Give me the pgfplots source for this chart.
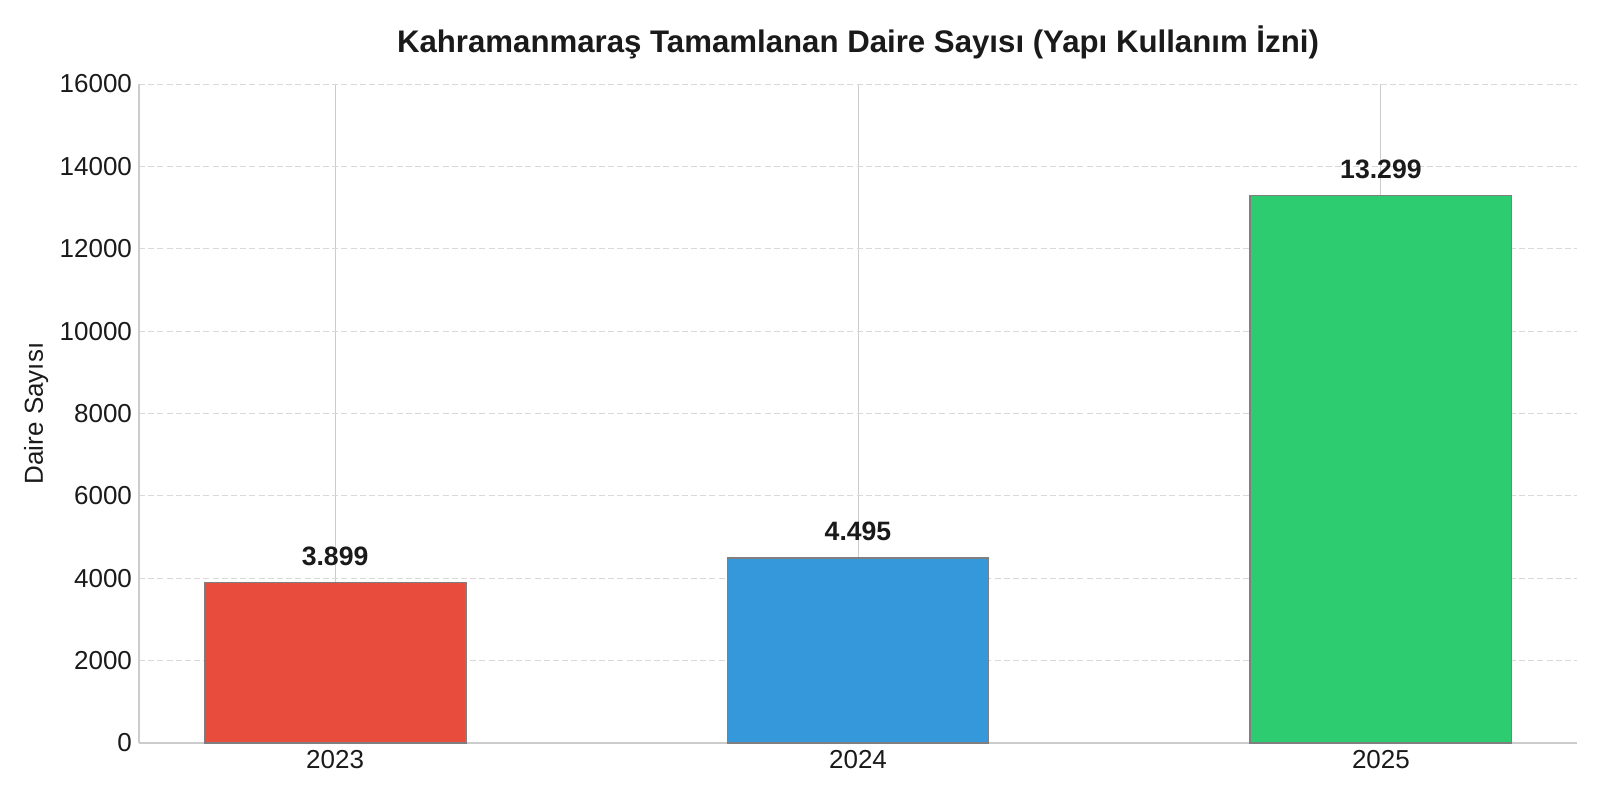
\documentclass[border=0pt]{standalone}
\usepackage{pgfplots}
\pgfplotsset{compat=1.18}
\usepackage{fontspec}
\setmainfont{Liberation Sans}
\definecolor{cred}{HTML}{E74C3C}
\definecolor{cblue}{HTML}{3498DB}
\definecolor{cgreen}{HTML}{2ECC71}
\definecolor{edge}{HTML}{7F7F7F}
\definecolor{spine}{HTML}{CCCCCC}
\definecolor{gridc}{HTML}{D9D9D9}
\definecolor{txt}{HTML}{1A1A1A}
\begin{document}
\begin{tikzpicture}
\path[use as bounding box] (0,0) rectangle (800pt,400pt);
\begin{axis}[
 at={(69.5pt,28.5pt)}, anchor=south west, scale only axis, width=719pt, height=329.5pt,
 xmin=-0.375, xmax=2.375, ymin=0, ymax=16000,
 xtick={0,1,2}, xticklabels={2023,2024,2025},
 ytick={0,2000,...,16000},
 scaled y ticks=false,
 /pgf/number format/1000 sep={},
 /pgf/number format/assume math mode=true,
 major tick length=0pt,
 axis x line*=bottom, axis y line*=left,
 axis line style={-, spine, line width=0.75pt},
 grid=major,
 major x grid style={solid, spine, line width=0.5pt},
 major y grid style={gridc, line width=0.5pt, dash pattern=on 3pt off 1.6pt},
 tick label style={font=\fontsize{13}{15}\selectfont, text=txt},
 title={Kahramanmaraş Tamamlanan Daire Sayısı (Yapı Kullanım İzni)},
 title style={font=\fontsize{15.6}{18}\selectfont\bfseries, text=txt, at={(0.5,1)}, anchor=base, yshift=10pt},
 ylabel={Daire Sayısı},
 ylabel style={font=\fontsize{13}{15}\selectfont, text=txt, at={(axis description cs:-0.0715,0.5)}, anchor=center},
 nodes near coords, point meta=explicit symbolic,
 every node near coord/.append style={font=\fontsize{13.3}{15}\selectfont\bfseries, anchor=base, yshift=8.5pt, text=txt},
]
\addplot[ybar, bar width=0.5, bar shift=0pt, fill=cred, draw=edge, line width=0.7pt] coordinates {(0,3899) [3.899]};
\addplot[ybar, bar width=0.5, bar shift=0pt, fill=cblue, draw=edge, line width=0.7pt] coordinates {(1,4495) [4.495]};
\addplot[ybar, bar width=0.5, bar shift=0pt, fill=cgreen, draw=edge, line width=0.7pt] coordinates {(2,13299) [13.299]};
\end{axis}
\end{tikzpicture}
\end{document}
